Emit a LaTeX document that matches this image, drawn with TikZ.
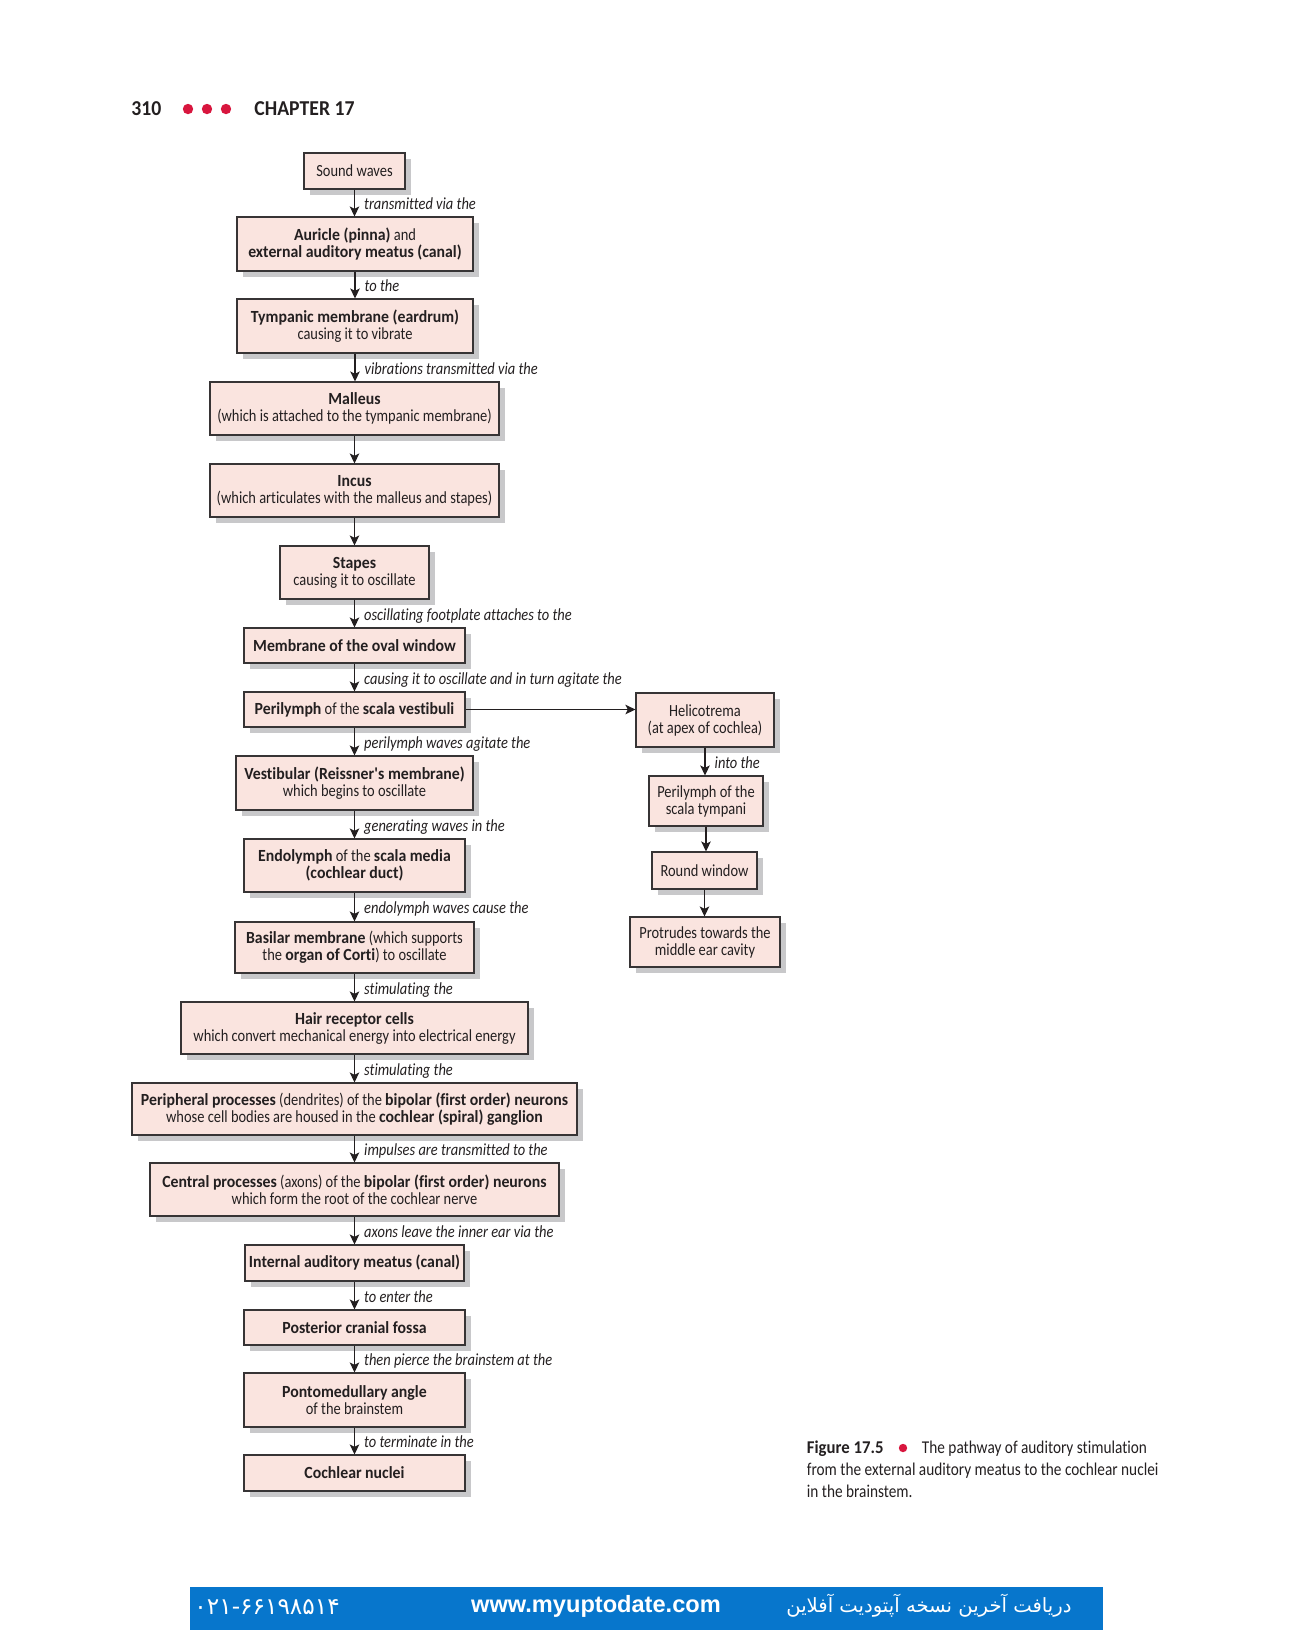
\documentclass[tikz,border=0pt]{standalone}
\usepackage{fontspec}
\setmainfont{Carlito}[FakeStretch=0.85, Ligatures=NoCommon,
  BoldFeatures={FakeStretch=0.93}, BoldItalicFeatures={FakeStretch=0.93}]
\newfontfamily\webfont{Liberation Sans}
\newfontfamily\arabicfont[Script=Arabic]{DejaVu Sans}
\TeXXeTstate=1
\usetikzlibrary{arrows.meta,shadows}

\definecolor{ink}{RGB}{35,31,32}
\definecolor{boxfill}{RGB}{250,228,223}
\definecolor{boxline}{RGB}{55,52,53}
\definecolor{shadowgray}{RGB}{200,200,202}
\definecolor{crimson}{RGB}{216,22,62}
\definecolor{barblue}{RGB}{7,118,204}

\newcommand\bodyfont{\fontsize{8.5}{8.5}\selectfont}
\newcommand\notefont{\fontsize{8.5}{8.5}\selectfont\itshape}

% box given by its left, top, right and bottom edges (in px units)
\newcommand\flowbox[6]{%
  \node[flowstep, minimum width={(#4-#2)*0.5pt}, minimum height={(#5-#3)*0.5pt}]
    (#1) at ({(#2+#4)/2},{(#3+#5)/2}) {#6};}

\tikzset{
  flowstep/.style={draw=boxline, fill=boxfill, line width=0.6pt, inner sep=0pt,
    align=center, text=ink, font=\bodyfont,
    drop shadow={shadow xshift=3pt, shadow yshift=-3pt, fill=shadowgray, opacity=1}},
  flowarrow/.style={draw=ink, line width=0.7pt,
    -{Stealth[length=5pt, width=4.8pt, inset=1.2pt]}},
  note/.style={anchor=base west, inner sep=0pt, xshift=4.5pt, yshift=-3.3pt,
    text=ink, font=\notefont},
}

\begin{document}
\begin{tikzpicture}[x=0.5pt, y=-0.5pt]
\useasboundingbox (0,0) rectangle (1294,1630);

% running head
\node[anchor=base west, inner sep=0pt, text=ink,
      font=\fontsize{10.6}{12}\selectfont\bfseries] (pagenum) at (131,115.5) {310};
\node[circle, fill=crimson, inner sep=0pt, minimum size=5.2pt] (hdot1) at (188,109) {};
\node[circle, fill=crimson, inner sep=0pt, minimum size=5.2pt] (hdot2) at (207,109) {};
\node[circle, fill=crimson, inner sep=0pt, minimum size=5.2pt] (hdot3) at (226,109) {};
\node[anchor=base west, inner sep=0pt, text=ink,
      font=\fontsize{10.6}{12}\selectfont\bfseries] (chapter) at (254,115.5) {CHAPTER 17};

% main column
\flowbox{sound}{304}{153}{405}{189}{Sound waves}
\flowbox{auricle}{237}{217}{473}{271}{\textbf{Auricle (pinna)} and\\\textbf{external auditory meatus (canal)}}
\flowbox{tympanic}{237}{299}{473}{353}{\textbf{Tympanic membrane (eardrum)}\\causing it to vibrate}
\flowbox{malleus}{210}{382}{499}{435}{\textbf{Malleus}\\(which is attached to the tympanic membrane)}
\flowbox{incus}{210}{464}{499}{517}{\textbf{Incus}\\(which articulates with the malleus and stapes)}
\flowbox{stapes}{280}{546}{429}{599}{\textbf{Stapes}\\causing it to oscillate}
\flowbox{oval}{244}{628}{465}{663}{\textbf{Membrane of the oval window}}
\flowbox{vestibuli}{244}{692}{465}{727}{\textbf{Perilymph} of the \textbf{scala vestibuli}}
\flowbox{reissner}{236}{756}{473}{810}{\textbf{Vestibular (Reissner\textquotesingle s membrane)}\\which begins to oscillate}
\flowbox{endolymph}{244}{839}{465}{892}{\textbf{Endolymph} of the \textbf{scala media}\\\textbf{(cochlear duct)}}
\flowbox{basilar}{235}{922}{474}{973}{\textbf{Basilar membrane} (which supports\\the \textbf{organ of Corti}) to oscillate}
\flowbox{hair}{181}{1002}{528}{1054}{\textbf{Hair receptor cells}\\which convert mechanical energy into electrical energy}
\flowbox{peripheral}{132}{1083}{577}{1135}{\textbf{Peripheral processes} (dendrites) of the \textbf{bipolar (first order) neurons}\\whose cell bodies are housed in the \textbf{cochlear (spiral) ganglion}}
\flowbox{central}{150}{1163}{559}{1216}{\textbf{Central processes} (axons) of the \textbf{bipolar (first order) neurons}\\which form the root of the cochlear nerve}
\flowbox{internal}{245}{1245}{464}{1281}{\textbf{Internal auditory meatus (canal)}}
\flowbox{posterior}{244}{1310}{465}{1345}{\textbf{Posterior cranial fossa}}
\flowbox{ponto}{244}{1373}{465}{1427}{\textbf{Pontomedullary angle}\\of the brainstem}
\flowbox{nuclei}{244}{1455}{465}{1491}{\textbf{Cochlear nuclei}}

% side column
\flowbox{heli}{636}{693}{774}{747}{Helicotrema\\(at apex of cochlea)}
\flowbox{tympani}{649}{776}{763}{826}{Perilymph of the\\scala tympani}
\flowbox{round}{652}{852}{757}{889}{Round window}
\flowbox{protrude}{630}{917}{780}{967}{Protrudes towards the\\middle ear cavity}

% connectors of the main column
\draw[flowarrow] (sound.south) -- (sound.south |- auricle.north) node[midway, note] {transmitted via the};
\draw[flowarrow] (auricle.south) -- (auricle.south |- tympanic.north) node[midway, note] {to the};
\draw[flowarrow] (tympanic.south) -- (tympanic.south |- malleus.north) node[midway, note] {vibrations transmitted via the};
\draw[flowarrow] (malleus.south) -- (malleus.south |- incus.north);
\draw[flowarrow] (incus.south) -- (incus.south |- stapes.north);
\draw[flowarrow] (stapes.south) -- (stapes.south |- oval.north) node[midway, note] {oscillating footplate attaches to the};
\draw[flowarrow] (oval.south) -- (oval.south |- vestibuli.north) node[midway, note] {causing it to oscillate and in turn agitate the};
\draw[flowarrow] (vestibuli.south) -- (vestibuli.south |- reissner.north) node[midway, note] {perilymph waves agitate the};
\draw[flowarrow] (reissner.south) -- (reissner.south |- endolymph.north) node[midway, note] {generating waves in the};
\draw[flowarrow] (endolymph.south) -- (endolymph.south |- basilar.north) node[midway, note] {endolymph waves cause the};
\draw[flowarrow] (basilar.south) -- (basilar.south |- hair.north) node[midway, note] {stimulating the};
\draw[flowarrow] (hair.south) -- (hair.south |- peripheral.north) node[midway, note] {stimulating the};
\draw[flowarrow] (peripheral.south) -- (peripheral.south |- central.north) node[midway, note] {impulses are transmitted to the};
\draw[flowarrow] (central.south) -- (central.south |- internal.north) node[midway, note] {axons leave the inner ear via the};
\draw[flowarrow] (internal.south) -- (internal.south |- posterior.north) node[midway, note] {to enter the};
\draw[flowarrow] (posterior.south) -- (posterior.south |- ponto.north) node[midway, note] {then pierce the brainstem at the};
\draw[flowarrow] (ponto.south) -- (ponto.south |- nuclei.north) node[midway, note] {to terminate in the};

% branch to the scala tympani
\draw[flowarrow] (vestibuli.east) -- (vestibuli.east -| heli.west);
\draw[flowarrow] (heli.south) -- (heli.south |- tympani.north) node[midway, note] {into the};
\draw[flowarrow] (tympani.south) -- (tympani.south |- round.north);
\draw[flowarrow] (round.south) -- (round.south |- protrude.north);

% caption
\node[anchor=base west, inner sep=0pt, text=ink, font=\fontsize{9}{11}\selectfont\bfseries]
  (figno) at (806.5,1453) {Figure 17.5};
\node[circle, fill=crimson, inner sep=0pt, minimum size=4.2pt] (capdot) at (903,1448) {};
\node[anchor=base west, inner sep=0pt, text=ink, font=\fontsize{9}{11}\selectfont]
  (cap1) at (921.5,1453) {The pathway of auditory stimulation};
\node[anchor=base west, inner sep=0pt, text=ink, font=\fontsize{9}{11}\selectfont]
  (cap2) at (806.5,1475) {from the external auditory meatus to the cochlear nuclei};
\node[anchor=base west, inner sep=0pt, text=ink, font=\fontsize{9}{11}\selectfont]
  (cap3) at (806.5,1497) {in the brainstem.};

% footer bar
\fill[barblue] (190,1587) rectangle (1103,1630);
\node[anchor=west, inner sep=0pt, text=white, font=\arabicfont\fontsize{11.6}{13}\selectfont]
  (phone) at (194,1607) {۰۲۱-۶۶۱۹۸۵۱۴};
\node[inner sep=0pt, text=white, font=\webfont\fontsize{11.8}{14}\selectfont\bfseries]
  (site) at (596,1606) {www.myuptodate.com};
\node[anchor=east, inner sep=0pt, text=white, font=\arabicfont\fontsize{9.8}{12}\selectfont]
  (promo) at (1072,1606) {\beginR دریافت آخرین نسخه آپتودیت آفلاین\endR};
\end{tikzpicture}
\end{document}
